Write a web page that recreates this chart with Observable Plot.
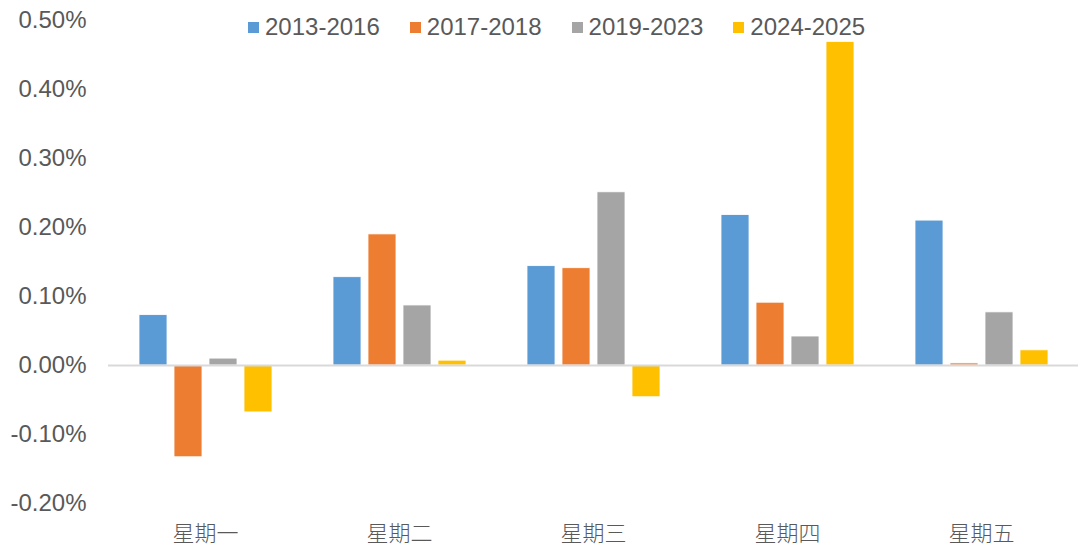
<!DOCTYPE html>
<html>
<head>
<meta charset="utf-8">
<script src="https://cdn.jsdelivr.net/npm/d3@7"></script>
<script src="https://cdn.jsdelivr.net/npm/@observablehq/plot@0.6"></script>
<style>
  html, body { margin: 0; padding: 0; background: #fff; }
  #wrap { position: relative; width: 1080px; height: 547px; }
  #legend { position: absolute; top: 15px; left: 248px; display: flex; align-items: center;
    font-family: "Liberation Sans", Arial, sans-serif; font-size: 24px; color: #595959; line-height: 24px; }
  .item { display: flex; align-items: center; margin-right: 30px; }
  .sw { width: 11px; height: 11px; margin-right: 6px; }
</style>
</head>
<body>
<div id="wrap"><div id="legend"></div></div>
<script>
const days = ["星期一", "星期二", "星期三", "星期四", "星期五"];
const series = ["2013-2016", "2017-2018", "2019-2023", "2024-2025"];
const v2013_2016 = [0.073, 0.128, 0.144, 0.218, 0.210];
const v2017_2018 = [-0.133, 0.190, 0.141, 0.091, 0.003];
const v2019_2023 = [0.010, 0.087, 0.251, 0.042, 0.077];
const v2024_2025 = [-0.068, 0.007, -0.046, 0.469, 0.022];
const colors = ["#5B9BD5", "#ED7D31", "#A5A5A5", "#FFC000"];
const yTicks = [-0.2, -0.1, 0, 0.1, 0.2, 0.3, 0.4, 0.5];

const seriesValues = [v2013_2016, v2017_2018, v2019_2023, v2024_2025];
const data = [];
series.forEach((s, i) => days.forEach((d, j) => data.push({day: d, series: s, value: seriesValues[i][j]})));

const chart = Plot.plot({
  width: 1080,
  height: 547,
  marginLeft: 108,
  marginRight: 2,
  marginTop: 20,
  marginBottom: 44,
  style: {fontFamily: "'Liberation Sans', Arial, sans-serif", fontSize: "24px", color: "#595959", background: "white"},
  fx: {domain: days, padding: 0, label: null},
  x: {domain: series, paddingInner: 0.2, paddingOuter: 0.871, axis: null},
  y: {domain: [-0.2, 0.5], label: null},
  color: {domain: series, range: colors},
  marks: [
    Plot.barY(data, {fx: "day", x: "series", y: "value", fill: "series", stroke: "white", strokeWidth: 0.8}),
    Plot.ruleY([0], {stroke: "#d9d9d9", strokeWidth: 2}),
    Plot.axisY({ticks: yTicks, tickFormat: d => d.toFixed(2) + "%", tickSize: 0, tickPadding: 22, label: null,
      fontSize: 24, fill: "#595959"}),
    Plot.axisFx({anchor: "bottom", tickSize: 0, tickPadding: 22, label: null, fontSize: 22,
      fontFamily: "'Noto Sans CJK SC', sans-serif", fontWeight: 300, fill: "#595959",
      style: "letter-spacing: 2px"})
  ]
});
document.getElementById("wrap").prepend(chart);

const legend = document.getElementById("legend");
series.forEach((s, i) => {
  const item = document.createElement("div");
  item.className = "item";
  const sw = document.createElement("div");
  sw.className = "sw";
  sw.style.background = colors[i];
  const t = document.createElement("span");
  t.textContent = s;
  item.appendChild(sw);
  item.appendChild(t);
  legend.appendChild(item);
});
</script>
</body>
</html>
